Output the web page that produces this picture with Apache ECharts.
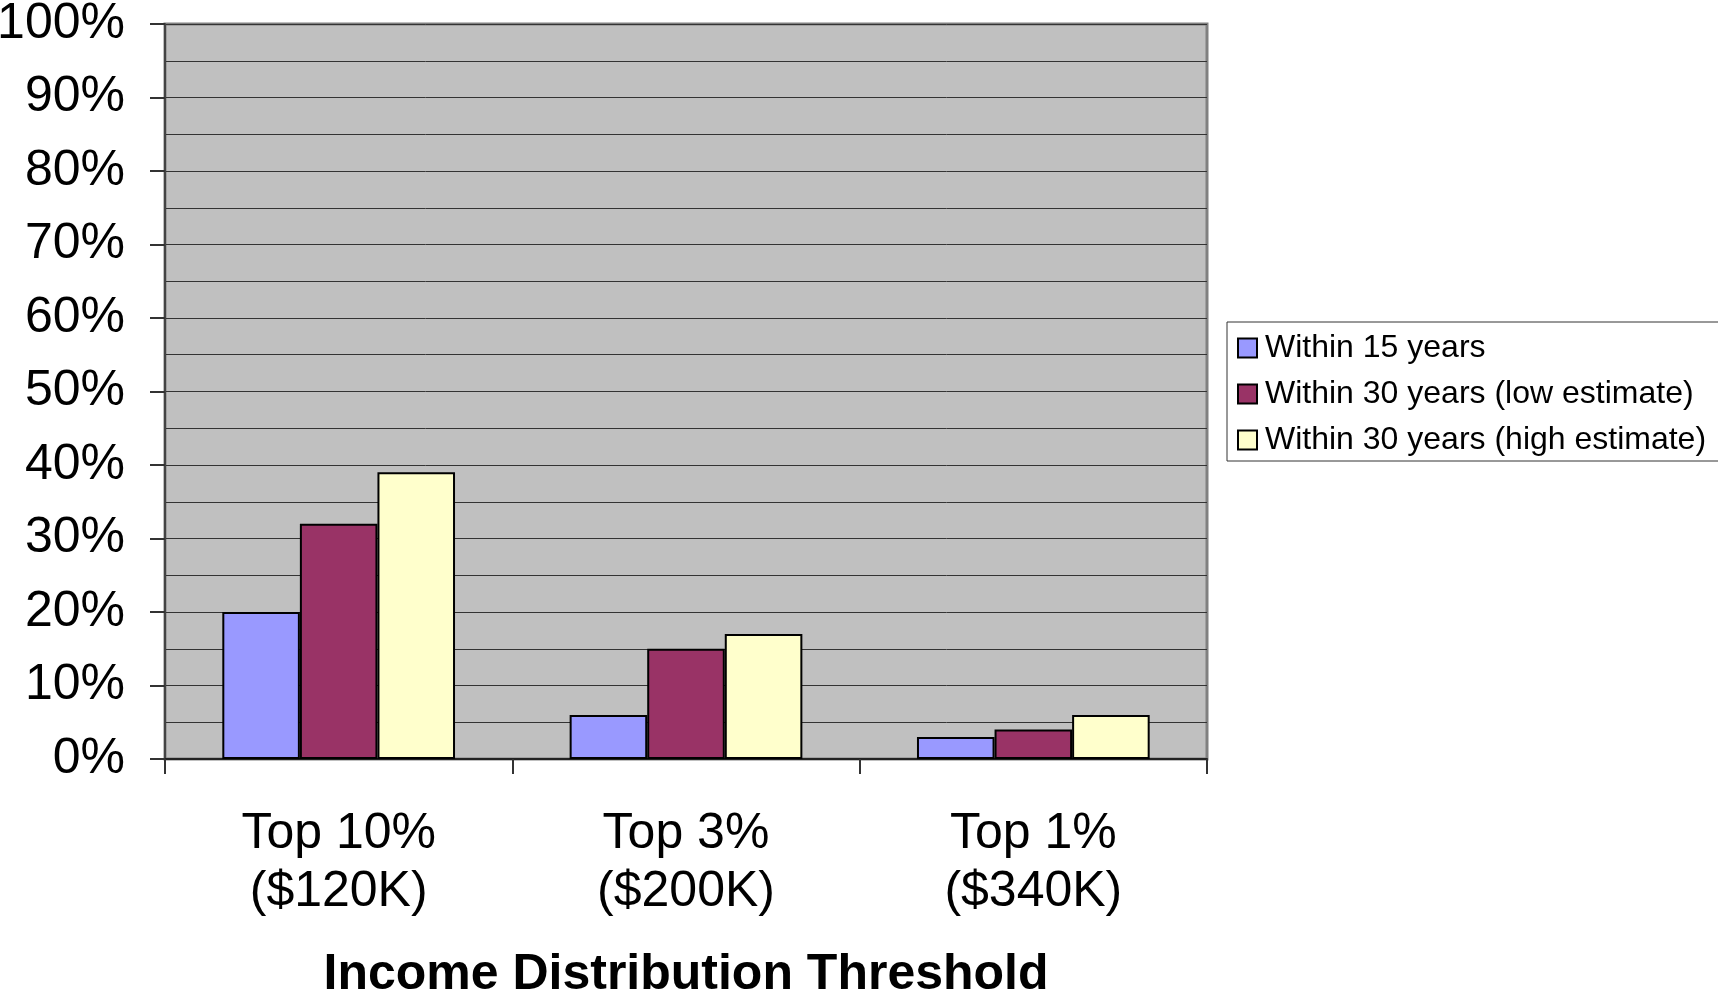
<!DOCTYPE html>
<html>
<head>
<meta charset="utf-8">
<script src="https://cdn.jsdelivr.net/npm/echarts@6/dist/echarts.min.js"></script>
<style>
  html, body { margin: 0; padding: 0; background: #fff; }
  #chart { width: 1718px; height: 997px; }
</style>
</head>
<body>
<div id="chart"></div>
<script>
// categories and values (percent)
var categories = ["Top 10%\n($120K)", "Top 3%\n($200K)", "Top 1%\n($340K)"];
var within15 = [20, 6, 3];
var within30Low = [32, 15, 4];
var within30High = [39, 17, 6];
var seriesNames = ["Within 15 years", "Within 30 years (low estimate)", "Within 30 years (high estimate)"];
var seriesColors = ["#9999FF", "#993366", "#FFFFCC"];

var font = "'Liberation Sans', Arial, sans-serif";

var myChart = echarts.init(document.getElementById("chart"));

function bar(name, data, color) {
  return {
    name: name,
    type: "bar",
    data: data,
    barGap: 0,
    barCategoryGap: "33%",
    itemStyle: { color: color, borderColor: "#000", borderWidth: 2 }
  };
}

myChart.setOption({
  animation: false,
  textStyle: { fontFamily: font },
  grid: {
    left: 165, top: 24, width: 1042, height: 735,
    outerBoundsMode: "none",
    containLabel: false,
    show: true,
    backgroundColor: "#C0C0C0",
    borderColor: "#808080",
    borderWidth: 3
  },
  legend: {
    orient: "vertical",
    left: 1227, top: 322,
    padding: [8, 30, 3, 10],
    itemGap: 10,
    itemWidth: 19, itemHeight: 19,
    icon: "rect",
    borderColor: "#333",
    borderWidth: 1,
    backgroundColor: "#fff",
    textStyle: { fontSize: 32, color: "#000", fontFamily: font, lineHeight: 36, padding: [0, 0, 0, 3] },
    data: seriesNames
  },
  xAxis: {
    type: "category",
    data: categories,
    name: "Income Distribution Threshold",
    nameLocation: "middle",
    nameGap: 191,
    nameTextStyle: { fontSize: 50, fontWeight: "bold", color: "#000", fontFamily: font },
    axisLine: { show: true, lineStyle: { color: "#222", width: 2 } },
    axisTick: { show: true, length: 15, lineStyle: { color: "#333", width: 2 } },
    axisLabel: { fontSize: 50, lineHeight: 58, color: "#000", margin: 46, fontFamily: font }
  },
  yAxis: {
    type: "value",
    min: 0, max: 100, interval: 10,
    axisLine: { show: true, lineStyle: { color: "#444", width: 2 } },
    axisTick: { show: true, length: 15, lineStyle: { color: "#333", width: 2 } },
    axisLabel: { fontSize: 50, color: "#000", margin: 40, padding: [6, 0, 0, 0], formatter: "{value}%", fontFamily: font },
    splitLine: { show: true, lineStyle: { color: "#333", width: 1 } },
    minorTick: { show: false, splitNumber: 2 },
    minorSplitLine: { show: true, lineStyle: { color: "#333", width: 1 } }
  },
  series: [
    bar(seriesNames[0], within15, seriesColors[0]),
    bar(seriesNames[1], within30Low, seriesColors[1]),
    bar(seriesNames[2], within30High, seriesColors[2])
  ]
});
</script>
</body>
</html>
